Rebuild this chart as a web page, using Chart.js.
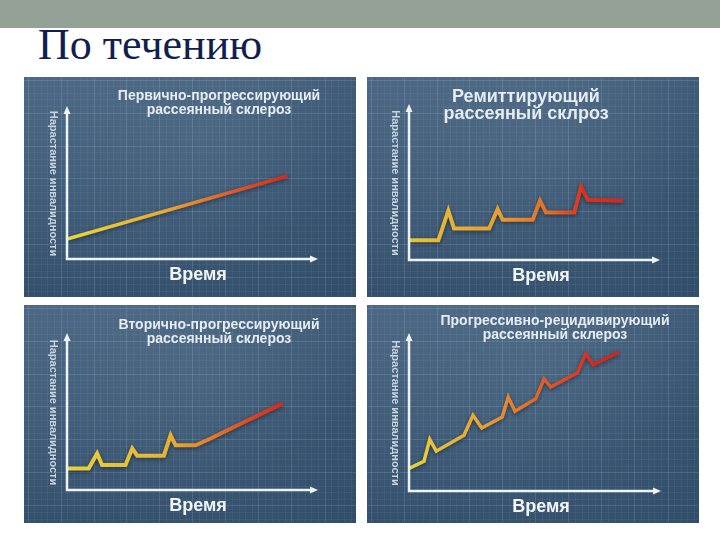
<!DOCTYPE html>
<html>
<head>
<meta charset="utf-8">
<script src="https://cdn.jsdelivr.net/npm/chart.js@4.4.1/dist/chart.umd.min.js"></script>
<style>
  body { margin: 0; width: 720px; height: 540px; background: #fff; position: relative; overflow: hidden; }
  #bar { position: absolute; left: 0; top: 0; width: 720px; height: 28px; background: #93a197; }
  #title { position: absolute; left: 38px; top: 19px; font-family: "Liberation Serif", serif; font-size: 44px; color: #10204e; }
  canvas { position: absolute; }
</style>
</head>
<body>
<div id="bar"></div>
<div id="title">По течению</div>
<canvas id="c1" width="332" height="220" style="left:24px;top:77px"></canvas>
<canvas id="c2" width="332" height="220" style="left:367px;top:77px"></canvas>
<canvas id="c3" width="332" height="218" style="left:24px;top:305px"></canvas>
<canvas id="c4" width="332" height="218" style="left:367px;top:305px"></canvas>
<script>
// values, x and y both in 0..100 of the axis length
const primaryX = [0, 88.6];
const primaryY = [13.2, 55];

const remitX = [0, 11.8, 15.8, 18.1, 32.2, 35.6, 37.6, 49.7, 52.6, 55, 66.4, 69.1, 71.8, 85.9];
const remitY = [12.8, 12.8, 32, 20.4, 20.4, 33, 26.1, 26.1, 38.5, 30.9, 30.9, 47.6, 39.1, 38.5];

const secondaryX = [0, 8.7, 12.1, 14.1, 23.5, 26.2, 28.2, 38.9, 41.6, 43.6, 51.7, 57.7, 68.5, 86.6];
const secondaryY = [13.9, 13.9, 23.6, 16.1, 16.1, 26.8, 22.1, 22.1, 35.3, 28.9, 28.9, 33.2, 41.8, 55.7];

const relapseX = [0, 6, 8.3, 10.9, 22, 25.6, 29.1, 37.3, 39.7, 42.4, 50.7, 54, 56.7, 67.3, 70.7, 73.7, 84];
const relapseY = [14.5, 19.1, 33, 25.5, 35.7, 48.5, 40.4, 47.4, 60.2, 51.1, 59.1, 71.9, 66.6, 75.7, 87.9, 80.9, 89];

const yTitle = 'Нарастание инвалидности';
const xTitle = 'Время';

function toPoints(xs, ys) {
  return xs.map((x, i) => ({ x: x, y: ys[i] }));
}

const panelBg = {
  id: 'panelBg',
  beforeDraw(chart) {
    const ctx = chart.ctx;
    const w = chart.width, h = chart.height;
    ctx.save();
    const g = ctx.createLinearGradient(0, 0, w * 0.3, h);
    g.addColorStop(0, '#4a6682');
    g.addColorStop(1, '#2f4b67');
    ctx.fillStyle = g;
    ctx.fillRect(0, 0, w, h);
    const r = ctx.createRadialGradient(w * 0.55, h * 0.3, 10, w * 0.55, h * 0.3, w * 0.7);
    r.addColorStop(0, 'rgba(120,150,175,0.25)');
    r.addColorStop(1, 'rgba(120,150,175,0)');
    ctx.fillStyle = r;
    ctx.fillRect(0, 0, w, h);
    ctx.lineWidth = 1;
    for (let x = 3.5; x < w; x += 6.6) {
      const major = Math.round((x - 3.5) / 6.6) % 5 === 0;
      ctx.strokeStyle = major ? 'rgba(200,220,240,0.16)' : 'rgba(200,220,240,0.06)';
      ctx.beginPath(); ctx.moveTo(Math.round(x) + 0.5, 0); ctx.lineTo(Math.round(x) + 0.5, h); ctx.stroke();
    }
    for (let y = 2.5; y < h; y += 6.6) {
      const major = Math.round((y - 2.5) / 6.6) % 5 === 0;
      ctx.strokeStyle = major ? 'rgba(200,220,240,0.16)' : 'rgba(200,220,240,0.06)';
      ctx.beginPath(); ctx.moveTo(0, Math.round(y) + 0.5); ctx.lineTo(w, Math.round(y) + 0.5); ctx.stroke();
    }
    ctx.restore();
  },
  afterDraw(chart, args, opts) {
    const ctx = chart.ctx;
    const a = chart.chartArea;
    ctx.save();
    // axes with arrows
    ctx.strokeStyle = '#eef3f7';
    ctx.fillStyle = '#eef3f7';
    ctx.lineWidth = 2.5;
    ctx.beginPath();
    ctx.moveTo(a.left, a.top + 3);
    ctx.lineTo(a.left, a.bottom);
    ctx.lineTo(a.right - 3, a.bottom);
    ctx.stroke();
    ctx.beginPath();
    ctx.moveTo(a.left, a.top - 2); ctx.lineTo(a.left - 3.5, a.top + 6); ctx.lineTo(a.left + 3.5, a.top + 6); ctx.closePath(); ctx.fill();
    ctx.beginPath();
    ctx.moveTo(a.right + 2, a.bottom); ctx.lineTo(a.right - 6, a.bottom - 3.5); ctx.lineTo(a.right - 6, a.bottom + 3.5); ctx.closePath(); ctx.fill();

    // titles
    ctx.textAlign = 'center';
    ctx.textBaseline = 'middle';
    ctx.fillStyle = '#e6ecf1';
    ctx.font = 'bold ' + opts.titleSize + 'px "Liberation Sans", Arial, sans-serif';
    opts.title.forEach((line, i) => {
      ctx.fillText(line, opts.titleX, opts.titleY + i * opts.titleGap);
    });
    ctx.font = 'bold 18px "Liberation Sans", Arial, sans-serif';
    ctx.fillStyle = '#f2f5f8';
    ctx.fillText(xTitle, 174, a.bottom + 16);
    ctx.font = 'bold 11px "Liberation Sans", Arial, sans-serif';
    ctx.fillStyle = '#c9d3dc';
    ctx.translate(a.left - 14, (a.top + a.bottom) / 2);
    ctx.rotate(Math.PI / 2);
    ctx.fillText(yTitle, 0, 0);
    ctx.restore();
  }
};

const lineShadow = {
  id: 'lineShadow',
  beforeDatasetsDraw(chart) {
    const ctx = chart.ctx;
    ctx.save();
    ctx.shadowColor = 'rgba(10,20,35,0.55)';
    ctx.shadowBlur = 4;
    ctx.shadowOffsetY = 1.5;
  },
  afterDatasetsDraw(chart) {
    chart.ctx.restore();
  }
};

function makeChart(id, xs, ys, stops, width, panel) {
  new Chart(document.getElementById(id), {
    type: 'line',
    data: {
      datasets: [{
        data: toPoints(xs, ys),
        borderWidth: width,
        tension: 0,
        pointRadius: 0,
        borderJoinStyle: 'miter',
        borderColor: (c) => {
          const a = c.chart.chartArea;
          if (!a) return '#e0a030';
          const g = c.chart.ctx.createLinearGradient(a.left, 0, a.left + (a.right - a.left) * 0.88, 0);
          stops.forEach(s => g.addColorStop(s[0], s[1]));
          return g;
        }
      }]
    },
    options: {
      responsive: false,
      animation: false,
      events: [],
      layout: { padding: panel.padding },
      scales: {
        x: { type: 'linear', min: 0, max: 100, display: false },
        y: { min: 0, max: 100, display: false }
      },
      plugins: {
        legend: { display: false },
        tooltip: { enabled: false },
        panelBg: panel
      }
    },
    plugins: [panelBg, lineShadow]
  });
}

makeChart('c1', primaryX, primaryY,
  [[0, '#e9d83c'], [0.45, '#e8a834'], [0.75, '#e05a28'], [1, '#d42a1e']], 3.5,
  { padding: { left: 43, right: 40, top: 31, bottom: 38 }, title: ['Первично-прогрессирующий', 'рассеянный склероз'], titleSize: 14, titleX: 195, titleY: 19, titleGap: 14 });

makeChart('c2', remitX, remitY,
  [[0, '#e6c438'], [0.4, '#e8a030'], [0.65, '#e06a2a'], [0.8, '#d8321f'], [1, '#d4261c']], 4,
  { padding: { left: 42, right: 41, top: 29, bottom: 37 }, title: ['Ремиттирующий', 'рассеяный склроз'], titleSize: 18, titleX: 159, titleY: 20, titleGap: 17 });

makeChart('c3', secondaryX, secondaryY,
  [[0, '#e8d23a'], [0.45, '#e6b434'], [0.62, '#e6862c'], [0.85, '#dc4424'], [1, '#d4261c']], 4,
  { padding: { left: 43, right: 40, top: 30, bottom: 33 }, title: ['Вторично-прогрессирующий', 'рассеянный склероз'], titleSize: 14, titleX: 195, titleY: 20, titleGap: 14 });

makeChart('c4', relapseX, relapseY,
  [[0, '#e8d23a'], [0.35, '#e6a032'], [0.6, '#e0602a'], [0.85, '#d42a1e'], [1, '#d0241c']], 3.5,
  { padding: { left: 42, right: 40, top: 30, bottom: 32 }, title: ['Прогрессивно-рецидивирующий', 'рассеянный склероз'], titleSize: 14, titleX: 188, titleY: 16, titleGap: 14 });
</script>
</body>
</html>
